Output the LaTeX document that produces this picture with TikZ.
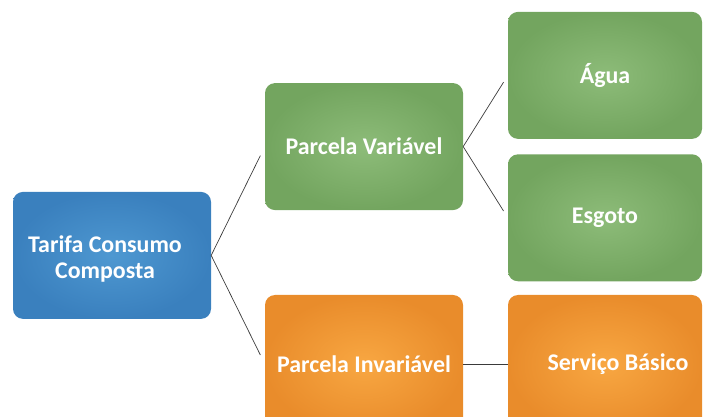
\documentclass[tikz,border=0pt]{standalone}
\usepackage{fontspec}
\setmainfont{Carlito}
\definecolor{azulclaro}{HTML}{4E98D1}
\definecolor{azulescuro}{HTML}{3A80BE}
\definecolor{verdeclaro}{HTML}{8DBC79}
\definecolor{verdeescuro}{HTML}{73A55F}
\definecolor{laranjaclaro}{HTML}{F8A742}
\definecolor{laranjaescuro}{HTML}{E98C2B}
\definecolor{linha}{HTML}{3A3A3A}
\begin{document}
\begin{tikzpicture}[x=40bp,y=40bp,
	texto/.style={text=white, align=center, font=\bfseries\fontsize{24}{26}\selectfont},
	caixa/.style={rounded corners=10bp, minimum width=198bp, minimum height=127bp, texto, shading=radial},
	azul/.style={caixa, inner color=azulclaro, outer color=azulescuro},
	verde/.style={caixa, inner color=verdeclaro, outer color=verdeescuro},
	laranja/.style={caixa, minimum height=138bp, inner color=laranjaclaro, outer color=laranjaescuro},
	liga/.style={draw=linha, line width=0.7pt}]
		\useasboundingbox (0,0) rectangle (17.6,10.425);
		\clip (0,0) rectangle (17.6,10.425);
		
		\node[azul, label={[texto, xshift=-7bp, yshift=-4bp]center:Tarifa Consumo\\Composta}] (tarifa) at (2.8,4.04) {};
		
		\node[verde] (variavel) at (9.1,6.76) {Parcela Variável};
		\node[verde, minimum width=194bp] (agua) at (15.125,8.54) {Água};
		\node[verde, minimum width=194bp] (esgoto) at (15.125,4.98) {Esgoto};
		
		\node[laranja] (invariavel) at (9.1,1.325) {Parcela Invariável};
		\node[laranja, minimum width=194bp, label={[texto, xshift=13bp]center:Serviço Básico}] (servico) at (15.125,1.325) {};
		
		\draw[liga, shorten >=10bp] (tarifa.east) -- (variavel.west);
		\draw[liga, shorten >=10bp] (tarifa.east) -- (invariavel.west);
		\draw[liga, shorten >=8bp] (variavel.east) -- (agua.west);
		\draw[liga, shorten >=8bp] (variavel.east) -- (esgoto.west);
		\draw[liga] (invariavel.east) -- (servico.west);
	\end{tikzpicture}
\end{document}
